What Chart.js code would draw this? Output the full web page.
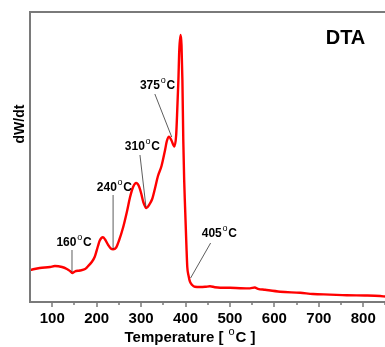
<!DOCTYPE html>
<html>
<head>
<meta charset="utf-8">
<script src="https://cdn.jsdelivr.net/npm/chart.js@4"></script>
<style>
  html, body { margin: 0; padding: 0; background: #fff; overflow: hidden; }
  #wrap { width: 385px; height: 347px; position: relative; }
</style>
</head>
<body>
<div id="wrap"><canvas id="dta"></canvas></div>
<script>
// temperature [C] and DTA signal (arbitrary units)
const temps = [50, 72, 95, 106, 122, 133, 140, 146, 151, 162, 174, 180, 189, 196, 203, 207, 214,
  219, 226, 232, 237, 244, 250, 260, 268, 275, 282, 289, 295, 300, 305, 312, 318, 325, 331, 338,
  346, 354, 358, 363, 368, 375, 379, 381, 384, 386, 389, 391, 393, 395, 397, 399, 402, 404, 407,
  410, 415, 421, 433, 444, 455, 466, 478, 500, 523, 545, 556, 563, 579, 613, 658, 687, 725, 763,
  804, 838, 849];
const dtaValues = [32, 34, 35, 36, 35, 33, 31, 29, 30.5, 31.5, 33, 35.5, 40, 45.5, 56, 61.5, 64.7,
  62.5, 57, 53.5, 52.7, 54.5, 61, 75.3, 90, 104.5, 115, 119, 116, 109, 100, 94, 97, 103, 113, 126,
  136, 152, 161, 165.3, 162, 155.5, 167, 187, 222, 252, 267, 257, 222, 162, 122, 95, 57, 35, 26,
  20.3, 17, 15.3, 15, 15.2, 15.7, 14.8, 14.3, 14.2, 13.8, 13.6, 14.5, 13.2, 12.2, 10.3, 9.2, 8,
  7.4, 6.7, 6.5, 6, 5.5];

const xTicks = [100, 200, 300, 400, 500, 600, 700, 800];
const xMinorTicks = [150, 250, 350, 450, 550, 650, 750, 850];

// peak labels: text, text centre [T, v], leader line from/to [T, v]
const peakLabels = ['160', '240', '310', '375', '405'];
const labelPos = [[149, 59], [240, 114], [303, 155], [337, 216], [476, 68]];
const leaderFrom = [[144.5, 52], [237, 107], [297.5, 147], [331, 208], [456.5, 59]];
const leaderTo = [[144.5, 30], [237, 53], [311, 95], [369, 165], [411.5, 24]];

const FONT = "'Liberation Sans', Arial, sans-serif";
const AXIS = '#7a7a7a';

// draws "text" + superscript o + "C" centred at cx, cy
function degText(ctx, parts, cx, cy, size) {
  const big = `bold ${size}px ${FONT}`;
  const small = `${Math.round(size * 0.75)}px ${FONT}`;
  const gap = size * 0.06;
  ctx.font = big;
  const w1 = ctx.measureText(parts[0]).width;
  const w3 = ctx.measureText(parts[1]).width;
  ctx.font = small;
  const w2 = ctx.measureText('o').width;
  let x = cx - (w1 + w2 + w3 + 2 * gap) / 2;
  ctx.textBaseline = 'middle';
  ctx.textAlign = 'left';
  ctx.font = big;
  ctx.fillText(parts[0], x, cy);
  x += w1 + gap;
  ctx.font = small;
  ctx.fillText('o', x, cy - size * 0.42);
  x += w2 + gap;
  ctx.font = big;
  ctx.fillText(parts[1], x, cy);
}

const decor = {
  id: 'decor',
  afterDraw(chart) {
    const { ctx, chartArea: a, scales: { x, y } } = chart;
    ctx.save();
    // frame: left, top, bottom
    ctx.strokeStyle = AXIS;
    ctx.lineWidth = 2;
    ctx.beginPath();
    ctx.moveTo(a.left, a.bottom);
    ctx.lineTo(a.left, a.top);
    ctx.lineTo(chart.width, a.top);
    ctx.moveTo(a.left - 1, a.bottom);
    ctx.lineTo(chart.width, a.bottom);
    ctx.stroke();
    ctx.lineWidth = 1.5;
    ctx.beginPath();
    xTicks.forEach(t => {
      const px = Math.round(x.getPixelForValue(t));
      ctx.moveTo(px, a.bottom);
      ctx.lineTo(px, a.bottom + 5);
    });
    xMinorTicks.forEach(t => {
      const px = Math.round(x.getPixelForValue(t));
      ctx.moveTo(px, a.bottom);
      ctx.lineTo(px, a.bottom + 3);
    });
    ctx.stroke();

    // leader lines
    ctx.strokeStyle = '#333';
    ctx.lineWidth = 0.8;
    ctx.beginPath();
    leaderFrom.forEach((f, i) => {
      const t = leaderTo[i];
      ctx.moveTo(x.getPixelForValue(f[0]), y.getPixelForValue(f[1]));
      ctx.lineTo(x.getPixelForValue(t[0]), y.getPixelForValue(t[1]));
    });
    ctx.stroke();

    ctx.fillStyle = '#000';
    peakLabels.forEach((txt, i) => {
      degText(ctx, [txt, 'C'], x.getPixelForValue(labelPos[i][0]), y.getPixelForValue(labelPos[i][1]), 12);
    });

    // titles
    degText(ctx, ['Temperature [ ', 'C ]'], 190, 338, 15);
    ctx.font = `bold 20px ${FONT}`;
    ctx.textAlign = 'center';
    ctx.textBaseline = 'middle';
    ctx.fillText('DTA', 345.5, 38);
    ctx.translate(20, 124);
    ctx.rotate(-Math.PI / 2);
    ctx.font = `bold 14px ${FONT}`;
    ctx.fillText('dW/dt', 0, 0);
    ctx.restore();
  }
};

new Chart(document.getElementById('dta'), {
  type: 'line',
  data: {
    datasets: [{
      data: temps.map((t, i) => ({ x: t, y: dtaValues[i] })),
      borderColor: '#ff0000',
      borderWidth: 2.4,
      pointRadius: 0,
      cubicInterpolationMode: 'monotone',
      fill: false
    }]
  },
  options: {
    responsive: true,
    maintainAspectRatio: false,
    animation: false,
    events: [],
    layout: { padding: { left: 30, top: 12, right: 0, bottom: 0 } },
    plugins: { legend: { display: false }, tooltip: { enabled: false } },
    scales: {
      x: {
        type: 'linear',
        min: 50,
        max: 849,
        afterBuildTicks: s => { s.ticks = xTicks.map(v => ({ value: v })); },
        afterFit: s => { s.height = 45; },
        grid: { display: false, drawTicks: false },
        border: { display: false },
        ticks: {
          autoSkip: false,
          maxRotation: 0,
          padding: 8,
          color: '#000',
          font: { family: FONT, size: 15, weight: 'bold' }
        }
      },
      y: {
        display: false,
        min: 0,
        max: 290
      }
    }
  },
  plugins: [decor]
});
</script>
</body>
</html>
